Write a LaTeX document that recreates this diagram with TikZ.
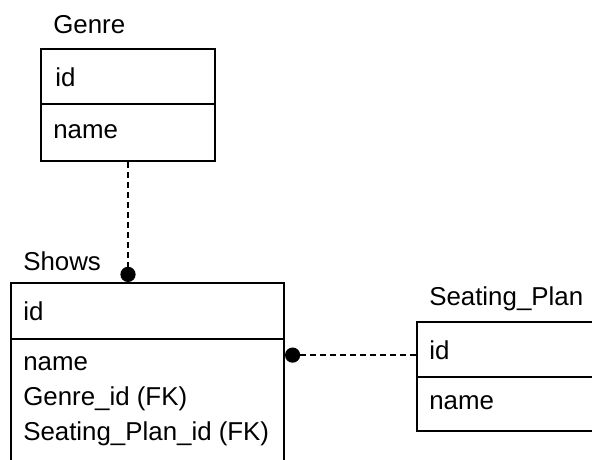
\documentclass[tikz,border=0pt]{standalone}
\usepackage{fontspec}
\setmainfont{Liberation Sans}
\usetikzlibrary{arrows.meta,positioning}

\begin{document}
\begin{tikzpicture}[
    field/.style={draw, line width=0.05cm, anchor=north west, inner sep=0pt},
    label/.style={anchor=base west, inner sep=0pt},
    fk/.style={line width=0.05cm, dash pattern=on 0.15cm off 0.1cm, -{Circle[length=0.38cm]}}
  ]
                        \useasboundingbox (0,0) rectangle (14.800000,11.475000);
                        \clip (0,0) rectangle (14.800000,11.475000);
                        {\fontsize{18.4}{24}\selectfont

                        % Drawing table Genre
                        \node [field, minimum width=4.350000cm, minimum height=1.375000cm] (genre id) at (1.000000,10.275000) {};%
                        \node [field, minimum width=4.350000cm, minimum height=1.425000cm] (genre name) at (1.000000,8.900000) {};%

                        % Drawing table Shows
                        \node [field, minimum width=6.825000cm, minimum height=1.400000cm] (shows id) at (0.250000,4.425000) {};%
                        \node [field, minimum width=6.825000cm, minimum height=3.600000cm] (shows attr) at (0.250000,3.025000) {};%

                        % Drawing table Seating_Plan
                        \node [field, minimum width=5.200000cm, minimum height=1.375000cm] (seat id) at (10.400000,3.450000) {};%
                        \node [field, minimum width=5.200000cm, minimum height=1.350000cm] (seat name) at (10.400000,2.075000) {};%

                        % Marking title Genre
                        \node [label] (genre title) at (1.325000,10.650000) {Genre};%
                        \node [label] (genre id text) at (1.375000,9.325000) {id};%
                        \node [label] (genre name text) at (1.325000,8.025000) {name};%

                        % Marking title Shows
                        \node [label] (shows title) at (0.575000,4.725000) {Shows};%
                        \node [label] (shows id text) at (0.575000,3.475000) {id};%
                        \node [label] (shows name text) at (0.575000,2.225000) {name};%
                        \node [label] (shows genre text) at (0.575000,1.350000) {Genre\_id (FK)};%
                        \node [label] (shows seat text) at (0.575000,0.475000) {Seating\_Plan\_id (FK)};%

                        % Marking title Seating_Plan
                        \node [label] (seat title) at (10.725000,3.850000) {Seating\_Plan};%
                        \node [label] (seat id text) at (10.725000,2.500000) {id};%
                        \node [label] (seat name text) at (10.725000,1.250000) {name};%

                        % Drawing link Genre -- Shows
                        \draw [fk] (genre name.south) -- (genre name.south |- shows id.north);%

                        % Drawing link Seating_Plan -- Shows
                        \coordinate (seat link) at ([yshift=-0.140000cm]seat id.west);
                        \draw [fk] (seat link) -- (seat link -| shows attr.east);%
                        }
\end{tikzpicture}
\end{document}
